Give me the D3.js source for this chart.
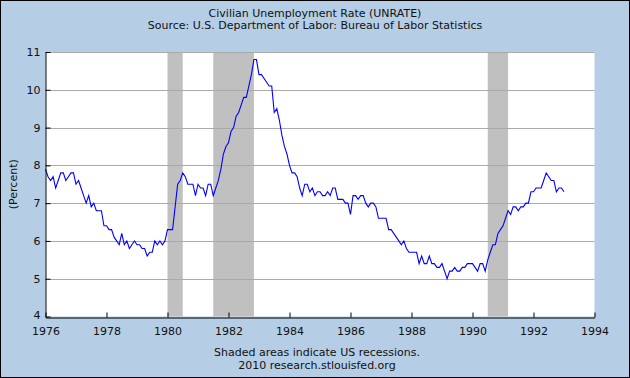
<!DOCTYPE html>
<html>
<head>
<meta charset="utf-8">
<script src="https://cdn.jsdelivr.net/npm/d3@7"></script>
<style>
  body { margin: 0; }
  text { font-family: "DejaVu Sans", Verdana, sans-serif; fill: #111; }
</style>
</head>
<body>
<svg class="chart"></svg>
<script>
// monthly unemployment rate, starting Jan 1976
var startYear = 1976;
var rates = [
  7.9, 7.7, 7.6, 7.7, 7.4, 7.6, 7.8, 7.8, 7.6, 7.7, 7.8, 7.8,
  7.5, 7.6, 7.4, 7.2, 7.0, 7.2, 6.9, 7.0, 6.8, 6.8, 6.8, 6.4,
  6.4, 6.3, 6.3, 6.1, 6.0, 5.9, 6.2, 5.9, 6.0, 5.8, 5.9, 6.0,
  5.9, 5.9, 5.8, 5.8, 5.6, 5.7, 5.7, 6.0, 5.9, 6.0, 5.9, 6.0,
  6.3, 6.3, 6.3, 6.9, 7.5, 7.6, 7.8, 7.7, 7.5, 7.5, 7.5, 7.2,
  7.5, 7.4, 7.4, 7.2, 7.5, 7.5, 7.2, 7.4, 7.6, 7.9, 8.3, 8.5,
  8.6, 8.9, 9.0, 9.3, 9.4, 9.6, 9.8, 9.8, 10.1, 10.4, 10.8, 10.8,
  10.4, 10.4, 10.3, 10.2, 10.1, 10.1, 9.4, 9.5, 9.2, 8.8, 8.5, 8.3,
  8.0, 7.8, 7.8, 7.7, 7.4, 7.2, 7.5, 7.5, 7.3, 7.4, 7.2, 7.3,
  7.3, 7.2, 7.2, 7.3, 7.2, 7.4, 7.4, 7.1, 7.1, 7.1, 7.0, 7.0,
  6.7, 7.2, 7.2, 7.1, 7.2, 7.2, 7.0, 6.9, 7.0, 7.0, 6.9, 6.6,
  6.6, 6.6, 6.6, 6.3, 6.3, 6.2, 6.1, 6.0, 5.9, 6.0, 5.8, 5.7,
  5.7, 5.7, 5.7, 5.4, 5.6, 5.4, 5.4, 5.6, 5.4, 5.4, 5.3, 5.3,
  5.4, 5.2, 5.0, 5.2, 5.2, 5.3, 5.2, 5.2, 5.3, 5.3, 5.4, 5.4,
  5.4, 5.3, 5.2, 5.4, 5.4, 5.2, 5.5, 5.7, 5.9, 5.9, 6.2, 6.3,
  6.4, 6.6, 6.8, 6.7, 6.9, 6.9, 6.8, 6.9, 6.9, 7.0, 7.0, 7.3,
  7.3, 7.4, 7.4, 7.4, 7.6, 7.8, 7.7, 7.6, 7.6, 7.3, 7.4, 7.4,
  7.3
];

// recessions as [start, end] in decimal years
var recessions = [[1980 + 0/12, 1980 + 6/12], [1981 + 6/12, 1982 + 10/12], [1990 + 6/12, 1991 + 2/12]];

var xTicks = [1976, 1978, 1980, 1982, 1984, 1986, 1988, 1990, 1992, 1994];
var yTicks = [4, 5, 6, 7, 8, 9, 10, 11];

var W = 630, H = 378;
var margin = {top: 52, right: 35.5, bottom: 61.5, left: 45.5};

var x = d3.scaleLinear().domain([1976, 1994]).range([margin.left, W - margin.right]);
var y = d3.scaleLinear().domain([4, 11]).range([H - margin.bottom, margin.top]);

var chart = d3.select(".chart").attr("width", W).attr("height", H);

chart.append("rect")
    .attr("x", 0.5).attr("y", 0.5)
    .attr("width", W - 1).attr("height", H - 1)
    .attr("fill", "#b5cde5")
    .attr("stroke", "#000");

chart.append("rect")
    .attr("x", margin.left).attr("y", margin.top)
    .attr("width", x(1994) - margin.left)
    .attr("height", y(4) - margin.top)
    .attr("fill", "#fff");

chart.selectAll(".rec")
    .data(recessions)
  .enter().append("rect")
    .attr("class", "rec")
    .attr("x", function(d) { return x(d[0]); })
    .attr("y", margin.top)
    .attr("width", function(d) { return x(d[1]) - x(d[0]); })
    .attr("height", y(4) - margin.top)
    .attr("fill", "#c0c0c0");

// grid
chart.selectAll(".grid")
    .data(yTicks.slice(1))
  .enter().append("line")
    .attr("class", "grid")
    .attr("x1", x(1976)).attr("x2", x(1994))
    .attr("y1", function(d) { return Math.round(y(d)) + 0.5; })
    .attr("y2", function(d) { return Math.round(y(d)) + 0.5; })
    .attr("stroke", "#aaaaaa");

var line = d3.line()
    .x(function(d, i) { return x(startYear + i / 12); })
    .y(function(d) { return y(d); });

chart.append("path")
    .datum(rates)
    .attr("d", line)
    .attr("fill", "none")
    .attr("stroke", "#0000ff")
    .attr("stroke-width", 1.1);

// axes
var xAxis = d3.axisBottom(x).tickValues(xTicks).tickFormat(d3.format("d")).tickSizeInner(-5).tickSizeOuter(0).tickPadding(10);
var yAxis = d3.axisLeft(y).tickValues(yTicks).tickFormat(d3.format("d")).tickSizeInner(-5).tickSizeOuter(0).tickPadding(5);

var gx = chart.append("g")
    .attr("transform", "translate(0," + (Math.round(y(4)) + 0.5) + ")")
    .call(xAxis);
var gy = chart.append("g")
    .attr("transform", "translate(" + margin.left + ",0)")
    .call(yAxis);

[gx, gy].forEach(function(g) {
  g.selectAll("path, line").attr("stroke", "#000");
  g.selectAll("text").style("font-size", "11px").attr("fill", "#111");
});
gy.select(".tick text").attr("dy", "0.15em");

chart.append("text")
    .attr("x", 315).attr("y", 17)
    .attr("text-anchor", "middle")
    .style("font-size", "11px")
    .text("Civilian Unemployment Rate (UNRATE)");

chart.append("text")
    .attr("x", 315).attr("y", 29)
    .attr("text-anchor", "middle")
    .style("font-size", "11px")
    .text("Source: U.S. Department of Labor: Bureau of Labor Statistics");

chart.append("text")
    .attr("transform", "translate(13," + ((margin.top + y(4)) / 2) + ") rotate(-90)")
    .attr("text-anchor", "middle")
    .attr("dy", "0.35em")
    .style("font-size", "11px")
    .text("(Percent)");

chart.append("text")
    .attr("x", 317).attr("y", 356)
    .attr("text-anchor", "middle")
    .style("font-size", "11px")
    .text("Shaded areas indicate US recessions.");

chart.append("text")
    .attr("x", 317).attr("y", 369)
    .attr("text-anchor", "middle")
    .style("font-size", "11px")
    .text("2010 research.stlouisfed.org");
</script>
</body>
</html>
